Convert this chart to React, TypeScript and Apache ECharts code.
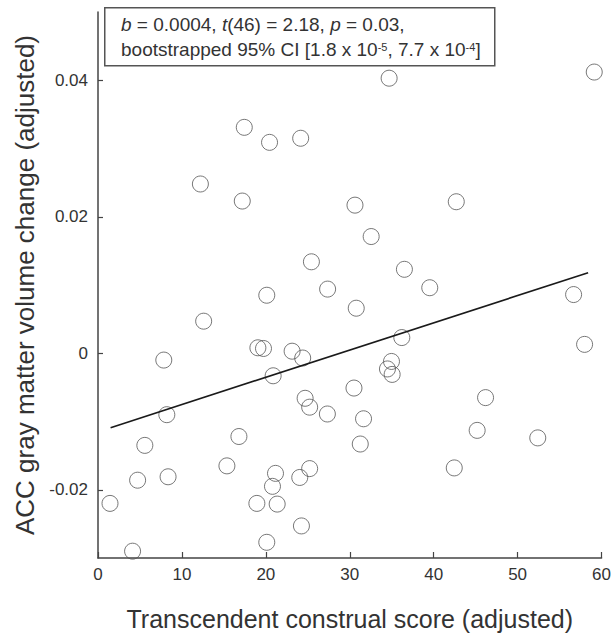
import React, { useEffect, useRef } from "react";
import * as echarts from "echarts";

const scoreValues = [
  17.43, 20.44, 24.15, 12.2, 17.19, 30.62, 42.69, 32.55, 25.43, 36.51, 27.36, 39.53, 20.11, 56.67,
  30.77, 34.69, 59.13, 12.59, 36.2, 57.98, 7.84, 19.05, 19.72, 23.13, 24.39, 34.97, 34.49, 35.05,
  20.87, 30.5, 46.18, 24.68, 25.22, 27.33, 8.2, 31.64, 45.18, 16.79, 52.4, 31.25, 5.58, 15.36,
  42.45, 25.22, 21.15, 8.35, 24.04, 4.72, 20.79, 1.43, 18.93, 21.35, 24.24, 20.11, 4.12,
];
const volumeValues = [
  0.0331, 0.0309, 0.0315, 0.0248, 0.0223, 0.0217, 0.0222, 0.0171, 0.0134, 0.0123, 0.0094, 0.0096,
  0.0085, 0.0086, 0.0066, 0.0403, 0.0412, 0.0047, 0.0023, 0.0013, -0.001, 0.0008, 0.0007, 0.0003,
  -0.0007, -0.0012, -0.0023, -0.0031, -0.0033, -0.0051, -0.0065, -0.0066, -0.0079, -0.0089,
  -0.009, -0.0096, -0.0113, -0.0122, -0.0124, -0.0133, -0.0135, -0.0165, -0.0168, -0.0169,
  -0.0176, -0.0181, -0.0182, -0.0186, -0.0195, -0.022, -0.022, -0.0221, -0.0253, -0.0277, -0.029,
];
const fitX = [1.5, 58.4];
const fitY = [-0.0109, 0.0118];
const xTicks = [0, 10, 20, 30, 40, 50, 60];
const yTicks = [-0.02, 0, 0.02, 0.04];

const FONT = "'Liberation Sans', Arial, Helvetica, sans-serif";

export default function App() {
  const ref = useRef<HTMLDivElement>(null);
  useEffect(() => {
    if (!ref.current) return;
    const chart = echarts.init(ref.current, undefined, { renderer: "svg" });
    const base = { fontFamily: FONT, fontSize: 19, fill: "#333" };
    chart.setOption({
      animation: false,
      backgroundColor: "#fff",
      grid: { left: 98, right: 11, top: 12, bottom: 78 },
      xAxis: {
        type: "value",
        min: 0,
        max: 60,
        interval: 10,
        name: "Transcendent construal score (adjusted)",
        nameLocation: "middle",
        nameGap: 48,
        nameTextStyle: { fontFamily: FONT, fontSize: 25, color: "#333" },
        axisLine: { show: true, onZero: false, lineStyle: { color: "#444", width: 1.5 } },
        axisTick: { show: true, inside: true, length: 6, lineStyle: { color: "#444", width: 1.2 }, customValues: xTicks },
        axisLabel: { fontFamily: FONT, fontSize: 17, color: "#333", margin: 8, customValues: xTicks },
        splitLine: { show: false },
      },
      yAxis: {
        type: "value",
        min: -0.03,
        max: 0.05,
        name: "ACC gray matter volume change (adjusted)",
        nameLocation: "middle",
        nameRotate: 90,
        nameGap: 58,
        nameTextStyle: { fontFamily: FONT, fontSize: 26, color: "#333" },
        axisLine: { show: true, onZero: false, lineStyle: { color: "#444", width: 1.5 } },
        axisTick: { show: true, inside: true, length: 5, lineStyle: { color: "#444", width: 1.2 }, customValues: yTicks },
        axisLabel: {
          fontFamily: FONT,
          fontSize: 17,
          color: "#333",
          margin: 10,
          customValues: yTicks,
          formatter: (v: number) => (Math.abs(v) < 1e-9 ? "0" : String(Number(v.toFixed(2)))),
        },
        splitLine: { show: false },
      },
      series: [
        {
          type: "scatter",
          symbol: "circle",
          symbolSize: 16,
          itemStyle: { color: "rgba(0,0,0,0)", borderColor: "#555", borderWidth: 1 },
          data: scoreValues.map((x, i) => [x, volumeValues[i]]),
          z: 3,
        },
        {
          type: "line",
          symbol: "none",
          lineStyle: { color: "#1a1a1a", width: 1.6 },
          data: fitX.map((x, i) => [x, fitY[i]]),
          z: 4,
        },
      ],
      graphic: [
        {
          type: "rect",
          left: 104,
          top: 7,
          shape: { width: 390, height: 58 },
          style: { fill: "#fff", stroke: "#555", lineWidth: 1.5 },
          z: 10,
        },
        {
          type: "text",
          x: 121,
          y: 12,
          z: 11,
          style: {
            text:
              "{i|b}{n| = 0.0004, }{i|t}{n|(46) = 2.18, }{i|p}{n| = 0.03,}\n" +
              "{n|bootstrapped 95% CI [1.8 x 10}{s|-5}{n|, 7.7 x 10}{s|-4}{n|]}",
            ...base,
            rich: {
              n: { ...base, lineHeight: 25 },
              i: { ...base, fontStyle: "italic", lineHeight: 25 },
              s: { fontFamily: FONT, fontSize: 11, fill: "#333", lineHeight: 25, verticalAlign: "top", padding: [4, 0, 0, 0] },
            },
          },
        },
      ],
    });
    return () => chart.dispose();
  }, []);
  return (
    <div
      ref={ref}
      style={{ position: "fixed", left: 0, top: 0, width: 614, height: 636, background: "#fff" }}
    />
  );
}
